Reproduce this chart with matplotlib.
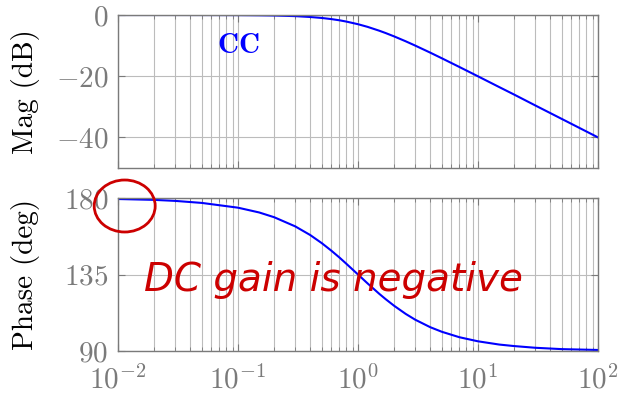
import numpy as np
import matplotlib
matplotlib.use("Agg")
import matplotlib.pyplot as plt
from matplotlib.patches import Ellipse
from matplotlib.ticker import FixedLocator, FixedFormatter, LogLocator, NullFormatter

# frequencies (rad/s)
freq = [0.01, 0.02, 0.03, 0.05, 0.1, 0.15, 0.2, 0.3, 0.4, 0.5, 0.6, 0.7, 0.8,
        1.0, 1.2, 1.5, 1.7, 2.0, 2.5, 3.0, 4.0, 5.0, 7.0, 10.0, 15.0, 20.0,
        30.0, 50.0, 100.0]
mag_db = [0.0, 0.0, 0.0, -0.01, -0.04, -0.1, -0.17, -0.37, -0.65, -0.97,
          -1.34, -1.73, -2.15, -3.01, -3.87, -5.12, -5.9, -6.99, -8.6, -10.0,
          -12.3, -14.15, -16.99, -20.04, -23.54, -26.0, -29.55, -33.98, -40.0]
phase_deg = [179.4, 178.9, 178.3, 177.1, 174.3, 171.5, 168.7, 163.3, 158.2,
             153.4, 149.0, 145.0, 141.3, 135.0, 129.8, 123.7, 120.5, 116.6,
             111.8, 108.4, 104.0, 101.3, 98.1, 95.7, 93.8, 92.9, 91.9, 91.1,
             90.6]

mag_ticks = [0, -20, -40]
phase_ticks = [90, 135, 180]

plt.rcParams['font.family'] = 'serif'
plt.rcParams['font.serif'] = ['cmr10', 'DejaVu Serif']
plt.rcParams['mathtext.fontset'] = 'cm'
plt.rcParams['axes.formatter.use_mathtext'] = True

gray = '#7a7a7a'
fig = plt.figure(figsize=(6.18, 3.93), dpi=100)
ax1 = fig.add_axes([118 / 618, 1 - 168 / 393, 480 / 618, 153 / 393])
ax2 = fig.add_axes([118 / 618, 1 - 351 / 393, 480 / 618, 153 / 393])


def style(ax, ticks):
    ax.set_xscale('log')
    ax.set_xlim(0.01, 100)
    ax.xaxis.set_major_locator(LogLocator(base=10, numticks=10))
    ax.xaxis.set_minor_locator(LogLocator(base=10, subs=np.arange(2, 10), numticks=20))
    ax.xaxis.set_minor_formatter(NullFormatter())
    ax.yaxis.set_major_locator(FixedLocator(ticks))
    ax.yaxis.set_major_formatter(FixedFormatter(['$%d$' % t if t >= 0 else '$-%d$' % -t for t in ticks]))
    ax.grid(True, which='major', color='#bcbcbc', lw=0.8)
    ax.grid(True, which='minor', axis='x', color='#bcbcbc', lw=0.8)
    ax.tick_params(which='both', direction='in', top=True, right=True, color=gray,
                   labelcolor=gray, labelsize=21)
    ax.tick_params(which='major', length=5)
    ax.tick_params(which='minor', length=3)
    ax.tick_params(axis='x', pad=10)
    ax.tick_params(axis='y', pad=7)
    for s in ax.spines.values():
        s.set_color(gray)
        s.set_linewidth(1.0)
    ax.set_axisbelow(True)


ax1.plot(freq, mag_db, color='blue', lw=1.5)
style(ax1, mag_ticks)
ax1.set_ylim(-50, 0)
ax1.tick_params(axis='x', labelbottom=False)
ax1.set_ylabel('Mag (dB)', fontsize=21)
ax1.yaxis.set_label_coords(-0.1625, 0.5)
ax1.text(0.1, -10, r'$\mathbf{CC}$', color='blue', fontsize=21, ha='center', va='center')

ax2.plot(freq, phase_deg, color='blue', lw=1.5)
style(ax2, phase_ticks)
ax2.set_ylim(90, 180)
ax2.set_ylabel('Phase (deg)', fontsize=21)
ax2.yaxis.set_label_coords(-0.1625, 0.5)

# hand-written note
red = '#cc0000'
ax2.text(0.62, 132, 'DC gain is negative', color=red, fontsize=28, ha='center',
         va='center', family='DejaVu Sans', style='italic')
fig.patches.append(Ellipse((124.7 / 618, 1 - 206 / 393), 61 / 618, 52 / 393,
                           transform=fig.transFigure, fill=False, ec=red, lw=2))

fig.savefig('out.png', dpi=100)
